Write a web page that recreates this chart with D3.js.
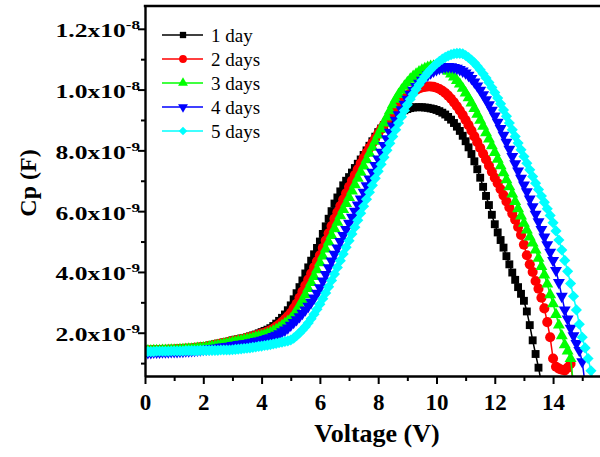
<!DOCTYPE html>
<html>
<head>
<meta charset="utf-8">
<script src="https://cdn.jsdelivr.net/npm/d3@7"></script>
<style>
  html, body { margin: 0; padding: 0; background: #ffffff; overflow: hidden; }
  svg { display: block; }
</style>
</head>
<body>
<svg id="chart" width="600" height="457"></svg>
<script>
// ---------------- DATA (Cp in units of 1e-9 F, voltage in V) ----------------
const voltage = [
  0,0.1,0.2,0.3,0.4,0.5,0.6,0.7,0.8,0.9,
  1,1.1,1.2,1.3,1.4,1.5,1.6,1.7,1.8,1.9,
  2,2.1,2.2,2.3,2.4,2.5,2.6,2.7,2.8,2.9,
  3,3.1,3.2,3.3,3.4,3.5,3.6,3.7,3.8,3.9,
  4,4.1,4.2,4.3,4.4,4.5,4.6,4.7,4.8,4.9,
  5,5.1,5.2,5.3,5.4,5.5,5.6,5.7,5.8,5.9,
  6,6.1,6.2,6.3,6.4,6.5,6.6,6.7,6.8,6.9,
  7,7.1,7.2,7.3,7.4,7.5,7.6,7.7,7.8,7.9,
  8,8.1,8.2,8.3,8.4,8.5,8.6,8.7,8.8,8.9,
  9,9.1,9.2,9.3,9.4,9.5,9.6,9.7,9.8,9.9,
  10,10.1,10.2,10.3,10.4,10.5,10.6,10.7,10.8,10.9,
  11,11.1,11.2,11.3,11.4,11.5,11.6,11.7,11.8,11.9,
  12,12.1,12.2,12.3,12.4,12.5,12.6,12.7,12.8,12.9,
  13,13.1,13.2,13.3,13.4,13.5,13.6,13.7,13.8,13.9,
  14,14.1,14.2,14.3,14.4,14.5,14.6,14.7,14.8,14.9,
  15,15.1,15.2,15.3,15.4
];

const cp1day = [
  1.43,1.43,1.43,1.44,1.44,1.44,1.45,1.45,1.46,1.46,
  1.46,1.47,1.47,1.48,1.49,1.50,1.50,1.51,1.52,1.53,
  1.55,1.56,1.58,1.60,1.62,1.64,1.66,1.68,1.70,1.72,
  1.75,1.77,1.79,1.81,1.83,1.85,1.88,1.91,1.94,1.98,
  2.02,2.06,2.10,2.15,2.22,2.30,2.39,2.49,2.60,2.74,
  2.90,3.10,3.30,3.50,3.72,3.95,4.15,4.37,4.58,4.79,
  5.00,5.25,5.50,5.75,6.00,6.25,6.45,6.65,6.85,7.00,
  7.12,7.27,7.42,7.56,7.70,7.85,8.00,8.15,8.30,8.45,
  8.60,8.72,8.83,8.93,9.02,9.10,9.17,9.23,9.28,9.32,
  9.36,9.39,9.41,9.42,9.42,9.42,9.41,9.40,9.38,9.36,
  9.33,9.29,9.24,9.18,9.10,9.01,8.90,8.78,8.64,8.48,
  8.30,8.10,7.88,7.64,7.38,7.10,6.80,6.50,6.20,5.88,
  5.57,5.30,5.05,4.80,4.52,4.25,3.98,3.74,3.50,3.28,
  3.05,2.70,2.25,1.75,1.30,0.85,0.35
];

const cp2days = [
  1.42,1.42,1.42,1.43,1.43,1.43,1.44,1.44,1.45,1.45,
  1.45,1.46,1.46,1.47,1.48,1.48,1.49,1.50,1.51,1.52,
  1.53,1.54,1.56,1.58,1.60,1.62,1.64,1.66,1.68,1.70,
  1.72,1.74,1.76,1.78,1.80,1.83,1.85,1.88,1.91,1.94,
  1.97,2.00,2.04,2.08,2.13,2.20,2.27,2.35,2.44,2.54,
  2.65,2.80,2.95,3.15,3.35,3.55,3.75,3.95,4.15,4.35,
  4.55,4.79,5.03,5.27,5.51,5.75,5.96,6.17,6.38,6.59,
  6.80,7.00,7.19,7.38,7.57,7.75,7.92,8.08,8.24,8.40,
  8.55,8.70,8.84,8.98,9.12,9.25,9.37,9.49,9.60,9.70,
  9.80,9.88,9.95,10.00,10.04,10.07,10.09,10.10,10.10,10.09,
  10.06,10.02,9.96,9.89,9.80,9.70,9.58,9.45,9.31,9.16,
  9.00,8.83,8.65,8.46,8.27,8.08,7.89,7.70,7.50,7.30,
  7.10,6.92,6.72,6.52,6.32,6.12,5.92,5.72,5.48,5.22,
  4.90,4.55,4.25,4.00,3.70,3.45,3.15,2.80,2.35,1.85,
  1.15,0.88,0.82,0.78,0.76,0.85,0.98,0.30
];

const cp3days = [
  1.40,1.40,1.40,1.41,1.41,1.41,1.42,1.42,1.42,1.43,
  1.43,1.43,1.44,1.44,1.45,1.46,1.46,1.47,1.48,1.49,
  1.50,1.51,1.53,1.55,1.56,1.58,1.60,1.62,1.64,1.66,
  1.68,1.70,1.72,1.74,1.76,1.78,1.80,1.82,1.85,1.87,
  1.90,1.93,1.96,2.00,2.05,2.10,2.16,2.23,2.30,2.37,
  2.45,2.58,2.72,2.90,3.07,3.25,3.45,3.65,3.85,4.07,
  4.30,4.52,4.75,4.98,5.20,5.42,5.63,5.85,6.05,6.25,
  6.45,6.66,6.87,7.08,7.28,7.48,7.69,7.90,8.10,8.30,
  8.50,8.70,8.90,9.10,9.30,9.50,9.68,9.84,9.98,10.11,
  10.23,10.34,10.43,10.51,10.58,10.64,10.69,10.73,10.76,10.77,
  10.77,10.75,10.72,10.67,10.60,10.51,10.41,10.30,10.18,10.04,
  9.89,9.73,9.56,9.38,9.19,8.99,8.79,8.58,8.37,8.15,
  7.93,7.71,7.49,7.26,7.03,6.80,6.56,6.32,6.08,5.84,
  5.60,5.38,5.15,4.95,4.72,4.45,4.18,3.90,3.60,3.25,
  2.95,2.60,2.25,1.90,1.60,1.40,1.15,0.30
];

const cp4days = [
  1.35,1.35,1.35,1.36,1.36,1.36,1.37,1.37,1.37,1.38,
  1.38,1.38,1.39,1.39,1.40,1.40,1.41,1.42,1.43,1.44,
  1.45,1.46,1.47,1.48,1.49,1.50,1.52,1.53,1.55,1.56,
  1.58,1.59,1.61,1.62,1.64,1.65,1.67,1.69,1.71,1.73,
  1.75,1.78,1.81,1.84,1.88,1.92,1.97,2.03,2.09,2.16,
  2.25,2.34,2.43,2.53,2.64,2.75,2.87,3.00,3.14,3.30,
  3.48,3.70,3.92,4.14,4.36,4.58,4.79,5.00,5.20,5.40,
  5.60,5.80,6.00,6.20,6.40,6.62,6.84,7.06,7.28,7.50,
  7.72,7.94,8.16,8.38,8.60,8.80,8.99,9.17,9.34,9.52,
  9.68,9.85,9.98,10.10,10.21,10.31,10.40,10.48,10.55,10.61,
  10.66,10.70,10.73,10.75,10.76,10.75,10.73,10.70,10.66,10.61,
  10.55,10.47,10.37,10.25,10.12,9.98,9.83,9.67,9.50,9.32,
  9.13,8.93,8.72,8.50,8.27,8.04,7.80,7.56,7.32,7.08,
  6.86,6.64,6.40,6.15,5.90,5.65,5.40,5.15,4.90,4.65,
  4.38,4.05,3.65,3.20,2.75,2.45,2.15,1.90,1.65,1.42,
  1.05,0.30
];

const cp5days = [
  1.38,1.38,1.38,1.38,1.39,1.39,1.39,1.39,1.39,1.40,
  1.40,1.40,1.40,1.40,1.41,1.41,1.41,1.41,1.41,1.42,
  1.42,1.42,1.42,1.42,1.42,1.42,1.43,1.43,1.43,1.43,
  1.44,1.45,1.46,1.47,1.48,1.49,1.50,1.52,1.53,1.55,
  1.56,1.58,1.59,1.61,1.63,1.65,1.67,1.69,1.71,1.73,
  1.76,1.82,1.90,1.99,2.09,2.20,2.32,2.46,2.61,2.77,
  2.94,3.12,3.31,3.51,3.72,3.93,4.15,4.37,4.59,4.81,
  5.03,5.25,5.47,5.70,5.93,6.16,6.39,6.62,6.85,7.08,
  7.31,7.54,7.77,8.00,8.23,8.46,8.68,8.90,9.11,9.31,
  9.50,9.68,9.85,10.01,10.16,10.30,10.43,10.55,10.66,10.76,
  10.85,10.93,11.00,11.06,11.11,11.15,11.18,11.19,11.19,11.18,
  11.12,11.05,10.97,10.88,10.77,10.65,10.52,10.38,10.23,10.07,
  9.90,9.72,9.53,9.33,9.12,8.90,8.68,8.46,8.24,8.02,
  7.80,7.58,7.36,7.14,6.92,6.71,6.50,6.29,6.08,5.86,
  5.62,5.35,5.05,4.72,4.38,4.02,3.62,3.20,2.75,2.28,
  1.85,1.50,1.15,0.75,0.25
];

const seriesNames   = ["1 day", "2 days", "3 days", "4 days", "5 days"];
const seriesValues  = [cp1day, cp2days, cp3days, cp4days, cp5days];
const seriesColors  = ["#000000", "#ff0000", "#00ff00", "#0000ff", "#00ffff"];
const seriesSymbols = ["square", "circle", "triangleUp", "triangleDown", "diamond"];

const xTicks      = [0, 2, 4, 6, 8, 10, 12, 14];
const xTickLabels = ["0", "2", "4", "6", "8", "10", "12", "14"];
const xMinorTicks = [1, 3, 5, 7, 9, 11, 13, 15];
const yTicks         = [2, 4, 6, 8, 10, 12];            // in 1e-9 F
const yTickMantissas = ["2.0", "4.0", "6.0", "8.0", "1.0", "1.2"];
const yTickExponents = ["-9", "-9", "-9", "-9", "-8", "-8"];
const yMinorTicks    = [1, 3, 5, 7, 9, 11];
const xTitle = "Voltage (V)";
const yTitle = "Cp (F)";

// ---------------- LAYOUT ----------------
const SERIF = "'Times New Roman', 'Liberation Serif', 'DejaVu Serif', serif";
const plot = { left: 145, right: 600, top: 6, bottom: 376 };

const x = d3.scaleLinear().domain([0, 15.61]).range([plot.left, plot.right]);
const y = d3.scaleLinear().domain([0.576, 12.75]).range([plot.bottom, plot.top]);

const svg = d3.select("#chart");
svg.append("rect").attr("width", 600).attr("height", 457).attr("fill", "#ffffff");

svg.append("defs").append("clipPath").attr("id", "plotclip")
  .append("rect")
  .attr("x", plot.left).attr("y", plot.top)
  .attr("width", plot.right - plot.left).attr("height", plot.bottom - plot.top);

function symbolPath(kind, size) {
  if (kind === "square") return d3.symbol(d3.symbolSquare, size)();
  if (kind === "circle") return d3.symbol(d3.symbolCircle, size)();
  if (kind === "triangleUp" || kind === "triangleDown") return d3.symbol(d3.symbolTriangle, size)();
  if (kind === "diamond") return d3.symbol(d3.symbolSquare, size)();
  return d3.symbol(d3.symbolCircle, size)();
}
function symbolRotate(kind) {
  if (kind === "triangleDown") return " rotate(180)";
  if (kind === "diamond") return " rotate(45)";
  return "";
}
const plotSizes = { square: 62, circle: 80, triangleUp: 62, triangleDown: 62, diamond: 62 };
const legendSizes = { square: 40, circle: 48, triangleUp: 42, triangleDown: 42, diamond: 36 };

// ---------------- SERIES ----------------
const dataG = svg.append("g").attr("clip-path", "url(#plotclip)");
const line = d3.line().x(d => x(d[0])).y(d => y(d[1]));

seriesValues.forEach((vals, si) => {
  const pts = vals.map((v, i) => [voltage[i], v]);
  const g = dataG.append("g");
  g.append("path")
    .datum(pts)
    .attr("d", line)
    .attr("fill", "none")
    .attr("stroke", seriesColors[si])
    .attr("stroke-width", 1.5);
  const kind = seriesSymbols[si];
  const p = symbolPath(kind, plotSizes[kind]);
  g.selectAll("path.m")
    .data(pts)
    .enter().append("path")
    .attr("class", "m")
    .attr("d", p)
    .attr("transform", d => `translate(${x(d[0])},${y(d[1])})` + symbolRotate(kind))
    .attr("fill", seriesColors[si]);
});

// ---------------- AXES ----------------
// bottom axis (major)
const xAxisG = svg.append("g")
  .attr("transform", `translate(0,${plot.bottom})`)
  .call(d3.axisBottom(x).tickValues(xTicks).tickSizeInner(8).tickSizeOuter(0)
        .tickFormat((d, i) => xTickLabels[i]));
xAxisG.select(".domain").attr("stroke", "#000").attr("stroke-width", 2.4);
xAxisG.selectAll(".tick line").attr("stroke", "#000").attr("stroke-width", 2);
xAxisG.selectAll(".tick text")
  .attr("y", 34).attr("dy", null)
  .style("font-family", SERIF).style("font-weight", "bold").style("font-size", "23px")
  .attr("fill", "#000");
// bottom axis (minor)
const xMinorG = svg.append("g")
  .attr("transform", `translate(0,${plot.bottom})`)
  .call(d3.axisBottom(x).tickValues(xMinorTicks).tickSize(5).tickFormat(""));
xMinorG.select(".domain").remove();
xMinorG.selectAll(".tick line").attr("stroke", "#000").attr("stroke-width", 2);

// left axis (major)
const yAxisG = svg.append("g")
  .attr("transform", `translate(${plot.left},0)`)
  .call(d3.axisLeft(y).tickValues(yTicks).tickSizeInner(7).tickSizeOuter(0).tickFormat(""));
yAxisG.select(".domain").attr("stroke", "#000").attr("stroke-width", 2.4);
yAxisG.selectAll(".tick line").attr("stroke", "#000").attr("stroke-width", 2);
// left axis (minor)
const yMinorG = svg.append("g")
  .attr("transform", `translate(${plot.left},0)`)
  .call(d3.axisLeft(y).tickValues(yMinorTicks).tickSize(4).tickFormat(""));
yMinorG.select(".domain").remove();
yMinorG.selectAll(".tick line").attr("stroke", "#000").attr("stroke-width", 2);

// top border
svg.append("line")
  .attr("x1", plot.left - 1.2).attr("x2", plot.right)
  .attr("y1", plot.top).attr("y2", plot.top)
  .attr("stroke", "#000").attr("stroke-width", 2.4);

// y tick labels with superscript exponents
const yLab = svg.append("g");
yTicks.forEach((t, i) => {
  const txt = yLab.append("text")
    .attr("transform", `translate(140,${y(t) + 8.5}) scale(1.42,1)`)
    .attr("text-anchor", "end")
    .attr("fill", "#000")
    .style("font-family", SERIF).style("font-weight", "bold").style("font-size", "18px");
  txt.append("tspan").text(yTickMantissas[i] + "x10");
  txt.append("tspan").attr("dy", -8).style("font-size", "12px").text(yTickExponents[i]);
});

// axis titles
svg.append("text")
  .attr("x", 377).attr("y", 442)
  .attr("text-anchor", "middle")
  .attr("fill", "#000")
  .style("font-family", SERIF).style("font-weight", "bold").style("font-size", "26px")
  .text(xTitle);

svg.append("text")
  .attr("transform", "translate(36,183) rotate(-90)")
  .attr("text-anchor", "middle")
  .attr("fill", "#000")
  .style("font-family", SERIF).style("font-weight", "bold").style("font-size", "24px")
  .text(yTitle);

// ---------------- LEGEND ----------------
const legendRows = [35, 59, 83, 107, 131];
const legG = svg.append("g");
seriesNames.forEach((name, i) => {
  const ry = legendRows[i];
  legG.append("line")
    .attr("x1", 162).attr("x2", 203).attr("y1", ry).attr("y2", ry)
    .attr("stroke", seriesColors[i]).attr("stroke-width", 1.5);
  const kind = seriesSymbols[i];
  legG.append("path")
    .attr("d", symbolPath(kind, legendSizes[kind]))
    .attr("transform", `translate(183,${ry})` + symbolRotate(kind))
    .attr("fill", seriesColors[i]);
  legG.append("text")
    .attr("x", 211).attr("y", ry + 6.5)
    .attr("fill", "#000")
    .style("font-family", SERIF).style("font-size", "19px")
    .text(name);
});
</script>
</body>
</html>
